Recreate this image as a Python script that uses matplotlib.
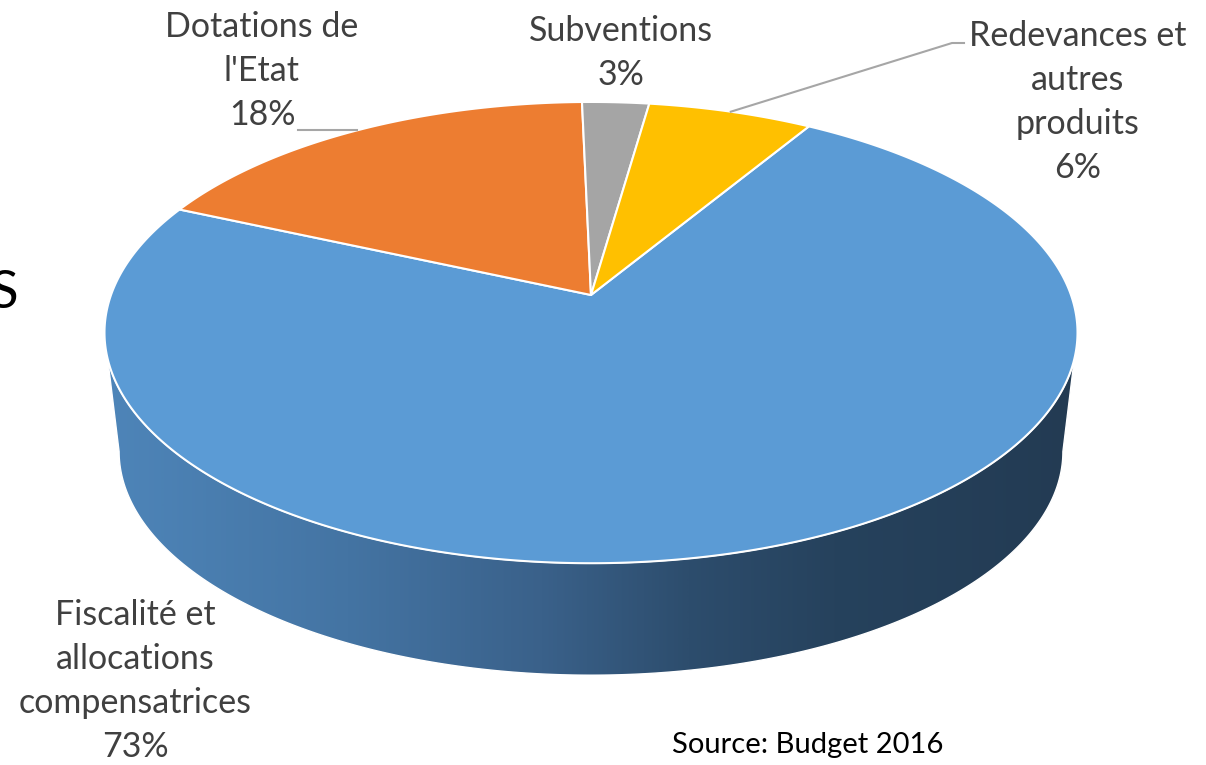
import numpy as np
import matplotlib
matplotlib.use("Agg")
import matplotlib.pyplot as plt
from matplotlib.patches import Polygon
from matplotlib.colors import LinearSegmentedColormap

# ---------------- data ----------------
categories = ["Fiscalité et\nallocations\ncompensatrices", "Dotations de\nl'Etat",
              "Subventions", "Redevances et\nautres\nproduits"]
values = [73.0, 18.0, 2.6, 6.4]
pct_labels = ["73%", "18%", "3%", "6%"]
colors = ["#5B9BD5", "#ED7D31", "#A5A5A5", "#FFC000"]
source_text = "Source: Budget 2016"

# ---------------- layout ----------------
W, H = 1206, 765
fig = plt.figure(figsize=(W / 100, H / 100), dpi=100)
ax = fig.add_axes([0, 0, 1, 1])
ax.set_xlim(0, W)
ax.set_ylim(H, 0)
ax.axis("off")

cx, cy = 591.0, 295.0
rx, ry = 480.0, 224.5
k = -0.163          # perspective factor
depth = 120.0
bscale = 0.97
start_deg = 31.15   # clockwise from far (top) point where first slice starts

def proj(phi_deg, r=1.0, bottom=False):
    p = np.radians(phi_deg)
    X = r * np.sin(p)
    Y = -r * np.cos(p)
    w = 1 + k * Y
    s = bscale if bottom else 1.0
    x = cx + s * rx * X / w
    y = cy + s * ry * Y / w + (depth if bottom else 0.0)
    return x, y

# ---------- side wall (front, visible part) ----------
phis = np.linspace(99.4, 260.6, 300)
tx, ty = proj(phis)
bx, by = proj(phis[::-1], bottom=True)
wall_xy = np.column_stack([np.concatenate([tx, bx]), np.concatenate([ty, by])])
wall = Polygon(wall_xy, closed=True, facecolor="none", edgecolor="white", lw=1.0, zorder=2)
ax.add_patch(wall)

grad_stops = [(0.0, "#4E85B9"), (0.25, "#4474A3"), (0.45, "#3A618A"),
              (0.60, "#2D4D6D"), (0.75, "#26425D"), (1.0, "#233B53")]
cmap = LinearSegmentedColormap.from_list("wall", grad_stops)
gx = np.linspace(0, 1, 512)[None, :]
im = ax.imshow(gx, cmap=cmap, extent=[wall_xy[:, 0].min(), wall_xy[:, 0].max(),
                                      wall_xy[:, 1].max(), wall_xy[:, 1].min()],
               aspect="auto", zorder=1.5, interpolation="bilinear")
im.set_clip_path(wall)

# ---------- top face wedges ----------
fractions = np.array(values) / np.sum(values)
angles = start_deg + np.concatenate([[0], np.cumsum(fractions) * 360])
mids = []
for i, (a0, a1) in enumerate(zip(angles[:-1], angles[1:])):
    ph = np.linspace(a0, a1, max(int((a1 - a0) * 2), 8))
    ex, ey = proj(ph)
    xs = np.concatenate([[cx], ex])
    ys = np.concatenate([[cy], ey])
    ax.add_patch(Polygon(np.column_stack([xs, ys]), closed=True,
                         facecolor=colors[i], edgecolor="white", lw=1.5,
                         joinstyle="round", zorder=3))
    mids.append((a0 + a1) / 2)

# ---------- labels ----------
font = ["Lato", "DejaVu Sans"]
lab_color = "#404040"
fs = 24.5
ls = 1.45
ax.text(135, 681, categories[0] + "\n" + pct_labels[0], ha="center", va="center",
        fontsize=fs, color=lab_color, family=font, linespacing=ls)
ax.text(262, 71, categories[1] + "\n" + pct_labels[1], ha="center", va="center",
        fontsize=fs, color=lab_color, family=font, linespacing=ls)
ax.text(621, 53, categories[2] + "\n" + pct_labels[2], ha="center", va="center",
        fontsize=fs, color=lab_color, family=font, linespacing=ls)
ax.text(1078, 102, categories[3] + "\n" + pct_labels[3], ha="center", va="center",
        fontsize=fs, color=lab_color, family=font, linespacing=ls)

# leader lines (anchored on the slice mid points)
ex1, ey1 = proj(mids[1])
ax.plot([298, ex1], [ey1, ey1], color="#A6A6A6", lw=1.5, zorder=4)
ex3, ey3 = proj(mids[3])
ax.plot([964, 952, ex3], [43, 43, ey3], color="#A6A6A6", lw=1.5, zorder=4)

ax.text(808, 745, source_text, ha="center", va="center", fontsize=21,
        color="black", family=font)
ax.text(4, 293, "S", ha="center", va="center", fontsize=38, color="black", family=font)

fig.savefig("out.png", dpi=100)
